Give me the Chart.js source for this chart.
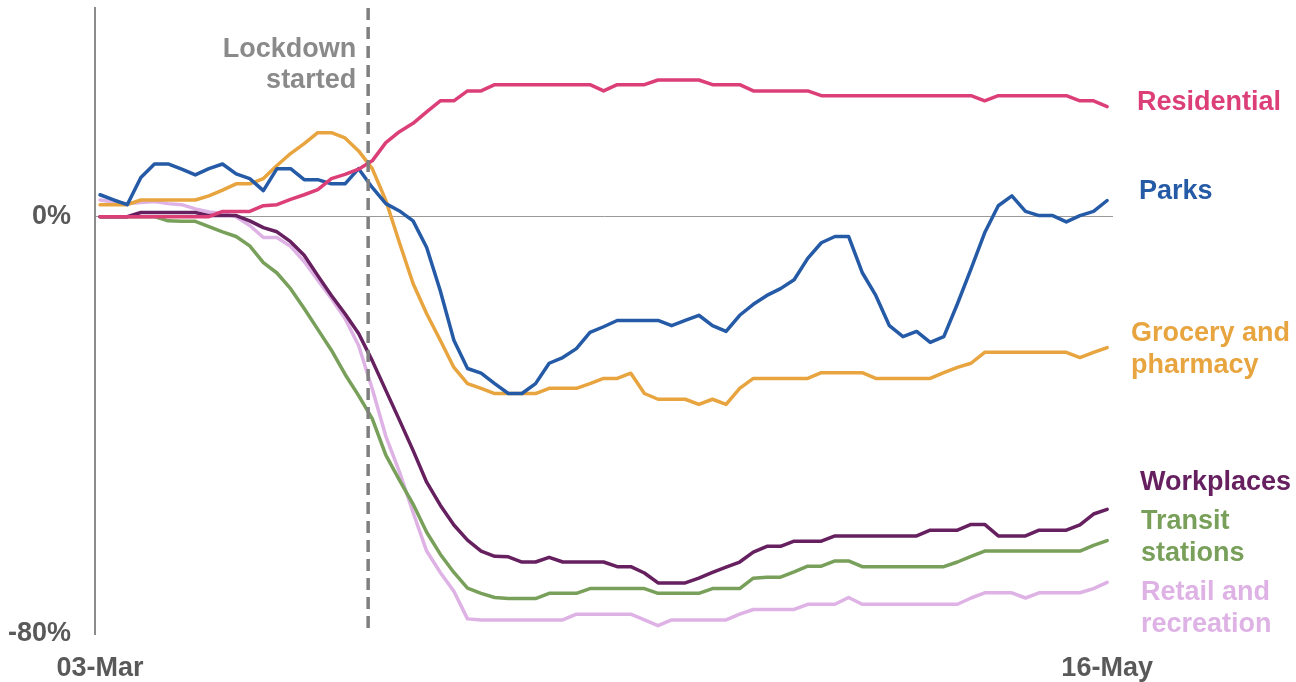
<!DOCTYPE html>
<html>
<head>
<meta charset="utf-8">
<script src="https://cdn.jsdelivr.net/npm/chart.js@4"></script>
<style>
  html, body { margin: 0; padding: 0; background: #ffffff; }
  #wrap { width: 1296px; height: 682px; position: relative; }
</style>
</head>
<body>
<div id="wrap"><canvas id="c" width="1296" height="682"></canvas></div>
<script>
// ---------- DATA ----------
const dates = [
  "03-Mar","04-Mar","05-Mar","06-Mar","07-Mar","08-Mar","09-Mar","10-Mar","11-Mar","12-Mar",
  "13-Mar","14-Mar","15-Mar","16-Mar","17-Mar","18-Mar","19-Mar","20-Mar","21-Mar","22-Mar",
  "23-Mar","24-Mar","25-Mar","26-Mar","27-Mar","28-Mar","29-Mar","30-Mar","31-Mar","01-Apr",
  "02-Apr","03-Apr","04-Apr","05-Apr","06-Apr","07-Apr","08-Apr","09-Apr","10-Apr","11-Apr",
  "12-Apr","13-Apr","14-Apr","15-Apr","16-Apr","17-Apr","18-Apr","19-Apr","20-Apr","21-Apr",
  "22-Apr","23-Apr","24-Apr","25-Apr","26-Apr","27-Apr","28-Apr","29-Apr","30-Apr","01-May",
  "02-May","03-May","04-May","05-May","06-May","07-May","08-May","09-May","10-May","11-May",
  "12-May","13-May","14-May","15-May","16-May"
];

const residential = [
  0,0,0,0,0,0,0,0,0,1.0,
  1.0,1.0,2.1,2.3,3.3,4.2,5.2,7.3,8.1,9.1,
  10.7,14.2,16.3,17.9,20.1,22.2,22.2,24.1,24.1,25.3,
  25.3,25.3,25.3,25.3,25.3,25.3,25.3,24.1,25.3,25.3,
  25.3,26.2,26.2,26.2,26.2,25.3,25.3,25.3,24.1,24.1,
  24.1,24.1,24.1,23.2,23.2,23.2,23.2,23.2,23.2,23.2,
  23.2,23.2,23.2,23.2,23.2,22.2,23.2,23.2,23.2,23.2,
  23.2,23.2,22.2,22.2,21.1
];

const parks = [
  4.2,3.2,2.3,7.5,10.1,10.1,9.1,8.0,9.2,10.1,
  8.2,7.3,5.0,9.2,9.2,7.1,7.1,6.3,6.3,9.2,
  5.6,2.5,1.1,-0.8,-5.9,-14.2,-23.7,-29.1,-30.0,-32.0,
  -33.9,-33.9,-32.0,-28.1,-27.0,-25.3,-22.2,-21.1,-19.9,-19.9,
  -19.9,-19.9,-20.9,-19.9,-18.9,-20.9,-22.0,-18.9,-16.8,-15.1,
  -13.8,-12.1,-8.0,-5.0,-3.8,-3.8,-10.7,-15.1,-20.9,-23.0,
  -22.0,-24.1,-23.0,-16.7,-10.0,-3.1,2.1,4.0,1.0,0.2,
  0.2,-1.0,0.2,1.0,3.1
];

const grocery = [
  2.3,2.3,2.3,3.2,3.2,3.2,3.2,3.2,4.0,5.1,
  6.3,6.3,7.3,9.8,12.1,14.0,16.1,16.1,15.1,12.6,
  9.2,3.1,-5.0,-12.8,-18.6,-23.7,-28.9,-32.0,-32.9,-33.9,
  -33.9,-33.9,-33.9,-32.9,-32.9,-32.9,-32.0,-31.0,-31.0,-30.0,
  -33.9,-35.0,-35.0,-35.0,-36.0,-35.0,-36.0,-32.9,-31.0,-31.0,
  -31.0,-31.0,-31.0,-29.9,-29.9,-29.9,-29.9,-31.0,-31.0,-31.0,
  -31.0,-31.0,-29.9,-28.9,-28.1,-26.0,-26.0,-26.0,-26.0,-26.0,
  -26.0,-26.0,-27.0,-26.0,-25.1
];

const workplaces = [
  0,0,0,0.8,0.8,0.8,0.8,0.8,0.2,0.2,
  0.2,-0.8,-2.1,-2.9,-4.8,-7.4,-11.3,-15.1,-18.6,-22.4,
  -27.6,-33.3,-39.0,-44.8,-50.9,-55.3,-59.1,-62.0,-64.1,-65.1,
  -65.2,-66.2,-66.2,-65.3,-66.2,-66.2,-66.2,-66.2,-67.1,-67.1,
  -68.3,-70.2,-70.2,-70.2,-69.3,-68.2,-67.2,-66.2,-64.3,-63.2,
  -63.2,-62.2,-62.2,-62.2,-61.2,-61.2,-61.2,-61.2,-61.2,-61.2,
  -61.2,-60.1,-60.1,-60.1,-59.0,-59.0,-61.2,-61.2,-61.2,-60.1,
  -60.1,-60.1,-59.1,-57.0,-56.1
];

const transit = [
  0,0,0,0,0,-0.8,-0.9,-0.9,-1.9,-2.9,
  -3.8,-5.6,-8.8,-10.8,-13.8,-17.6,-21.6,-25.6,-30.2,-34.3,
  -38.7,-45.7,-50.5,-55.1,-60.5,-64.7,-68.2,-71.2,-72.2,-73.0,
  -73.2,-73.2,-73.2,-72.2,-72.2,-72.2,-71.3,-71.3,-71.3,-71.3,
  -71.3,-72.2,-72.2,-72.2,-72.2,-71.3,-71.3,-71.3,-69.3,-69.1,
  -69.1,-68.1,-67.0,-67.0,-66.0,-66.0,-67.1,-67.1,-67.1,-67.1,
  -67.1,-67.1,-67.1,-66.2,-65.1,-64.1,-64.1,-64.1,-64.1,-64.1,
  -64.1,-64.1,-64.1,-63.0,-62.1
];

const retail = [
  3.2,2.8,2.5,2.7,2.9,2.5,2.3,1.5,0.9,0.6,
  0,-1.7,-4.0,-4.0,-5.7,-8.6,-12.2,-15.7,-19.5,-24.7,
  -33.0,-42.1,-48.9,-56.7,-64.1,-68.2,-71.8,-77.1,-77.3,-77.3,
  -77.3,-77.3,-77.3,-77.3,-77.3,-76.2,-76.2,-76.2,-76.2,-76.2,
  -77.3,-78.4,-77.3,-77.3,-77.3,-77.3,-77.3,-76.2,-75.3,-75.3,
  -75.3,-75.3,-74.3,-74.3,-74.3,-73.0,-74.3,-74.3,-74.3,-74.3,
  -74.3,-74.3,-74.3,-74.3,-73.1,-72.1,-72.1,-72.1,-73.1,-72.1,
  -72.1,-72.1,-72.1,-71.3,-70.1
];

const yTickValues = [-80, 0];
const yTickLabels = ["-80%", "0%"];
const xTickIndices = [0, 74];
const xTickLabels = ["03-Mar", "16-May"];
const lockdownIndex = 19.7;
const lockdownText = ["Lockdown", "started"];

// ---------- STYLE ----------
const FONT = "'Liberation Sans', Arial, sans-serif";
const colors = {
  residential: "#DC3F78",
  parks: "#255BA6",
  grocery: "#E7A43F",
  workplaces: "#66205F",
  transit: "#79A05A",
  retail: "#DEB2E5"
};

const seriesLabels = [
  { lines: ["Residential"], color: colors.residential, x: 1137, y: 103 },
  { lines: ["Parks"], color: colors.parks, x: 1139, y: 192 },
  { lines: ["Grocery and", "pharmacy"], color: colors.grocery, x: 1131, y: 334 },
  { lines: ["Workplaces"], color: colors.workplaces, x: 1140, y: 483 },
  { lines: ["Transit", "stations"], color: colors.transit, x: 1141, y: 522 },
  { lines: ["Retail and", "recreation"], color: colors.retail, x: 1141, y: 593 }
];

function pts(arr) { return arr.map((v, i) => ({ x: i, y: v })); }
function ds(label, arr, color) {
  return {
    label: label, data: pts(arr), borderColor: color, backgroundColor: color,
    borderWidth: 3.5, pointRadius: 0, tension: 0, fill: false,
    borderJoinStyle: "round", borderCapStyle: "round"
  };
}

const overlay = {
  id: "overlay",
  afterDatasetsDraw(chart) {
    const ctx = chart.ctx;
    const xs = chart.scales.x, area = chart.chartArea;
    const lx = xs.getPixelForValue(lockdownIndex);
    ctx.save();
    ctx.strokeStyle = "#7F7F7F";
    ctx.lineWidth = 3.5;
    ctx.setLineDash([12, 7]);
    ctx.beginPath();
    ctx.moveTo(lx, area.top);
    ctx.lineTo(lx, area.bottom - 2);
    ctx.stroke();
    ctx.setLineDash([]);
    ctx.font = "bold 27px " + FONT;
    ctx.fillStyle = "#8A8A8A";
    ctx.textAlign = "right";
    ctx.textBaseline = "middle";
    ctx.fillText(lockdownText[0], lx - 12, 50);
    ctx.fillText(lockdownText[1], lx - 12, 81);
    ctx.textAlign = "left";
    seriesLabels.forEach(l => {
      ctx.fillStyle = l.color;
      l.lines.forEach((t, k) => ctx.fillText(t, l.x, l.y + k * 32));
    });
    ctx.restore();
  }
};

new Chart(document.getElementById("c"), {
  type: "line",
  data: {
    datasets: [
      ds("Residential", residential, colors.residential),
      ds("Workplaces", workplaces, colors.workplaces),
      ds("Transit stations", transit, colors.transit),
      ds("Parks", parks, colors.parks),
      ds("Grocery and pharmacy", grocery, colors.grocery),
      ds("Retail and recreation", retail, colors.retail)
    ]
  },
  options: {
    responsive: false,
    animation: false,
    devicePixelRatio: 1,
    layout: { padding: { top: 8, right: 183, left: 0, bottom: 0 } },
    plugins: { legend: { display: false }, tooltip: { enabled: false } },
    scales: {
      x: {
        type: "linear",
        min: -0.37, max: 74.43,
        afterBuildTicks: s => { s.ticks = xTickIndices.map(v => ({ value: v })); },
        afterFit: s => { s.height = 48; s.paddingLeft = 0; s.paddingRight = 0; },
        ticks: {
          autoSkip: false, maxRotation: 0, padding: 18,
          color: "#595959", font: { family: FONT, size: 27, weight: "bold" },
          callback: v => xTickLabels[xTickIndices.indexOf(v)]
        },
        grid: { display: false, drawTicks: false },
        border: { display: false }
      },
      y: {
        min: -80, max: 40,
        afterBuildTicks: s => { s.ticks = yTickValues.map(v => ({ value: v })); },
        afterFit: s => { s.width = 95; s.paddingTop = 0; s.paddingBottom = 0; },
        ticks: {
          padding: 24, color: "#595959",
          font: { family: FONT, size: 27, weight: "bold" },
          callback: v => yTickLabels[yTickValues.indexOf(v)]
        },
        grid: {
          drawTicks: false,
          color: c => (c.tick && c.tick.value === 0) ? "#9A9A9A" : "rgba(0,0,0,0)",
          lineWidth: 1
        },
        border: { display: true, color: "#8C8C8C", width: 2 }
      }
    }
  },
  plugins: [overlay]
});
</script>
</body>
</html>
